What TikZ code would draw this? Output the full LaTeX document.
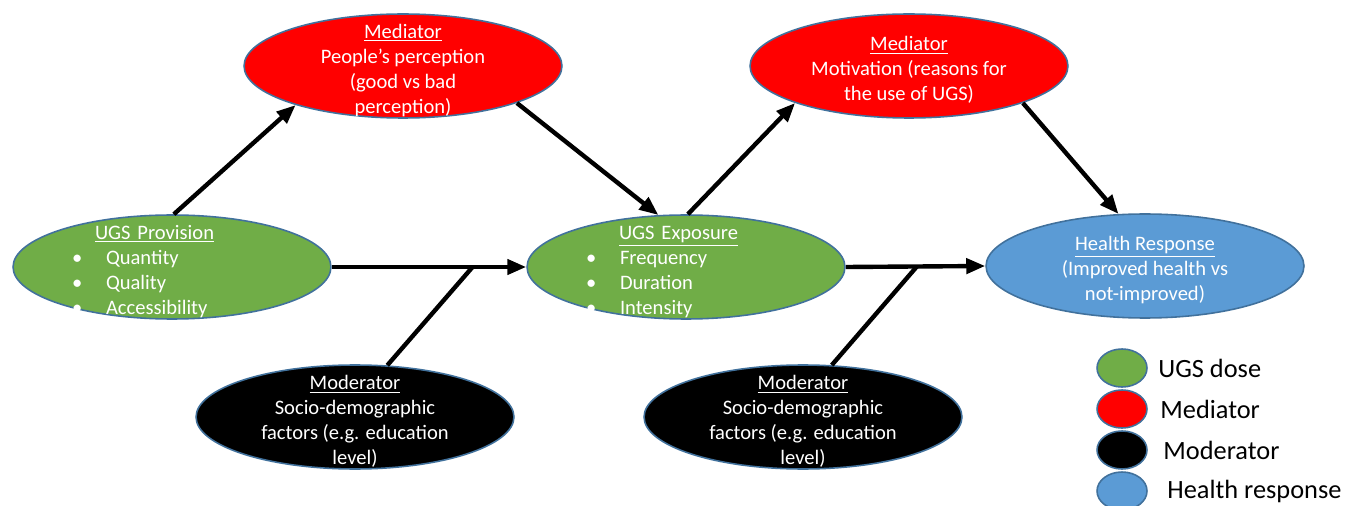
\documentclass[tikz,border=0pt]{standalone}
\usepackage{fontspec}
\setmainfont{Carlito}
\usepackage{tikz}
\usetikzlibrary{shapes.geometric,arrows.meta,calc,positioning}
\definecolor{dosegreen}{HTML}{70AD47}
\definecolor{medred}{HTML}{FF0000}
\definecolor{respblue}{HTML}{5B9BD5}
\definecolor{rimblue}{HTML}{41719C}
\newcommand{\padtop}{\rule{0pt}{12.8pt}}

\begin{document}
\begin{tikzpicture}[x=0.02cm, y=-0.02cm]
    \tikzstyle{blob} = [ellipse, draw=rimblue, line width=0.9pt, text=white, inner xsep=0pt, inner ysep=-0.6cm, minimum width=6.36cm, minimum height=2.08cm, align=center, font=\fontsize{11.7}{14.2}\selectfont]
    \tikzstyle{dose} = [blob, fill=dosegreen, align=left, text width=4cm]
    \tikzstyle{mediator} = [blob, fill=medred]
    \tikzstyle{moderator} = [blob, fill=black]
    \tikzstyle{response} = [blob, fill=respblue]
    \tikzstyle{legdot} = [ellipse, draw=rimblue, line width=0.9pt, inner sep=0pt, minimum width=1cm, minimum height=0.76cm]
    \tikzstyle{arr} = [line width=2.5pt, -{Triangle[length=0.38cm, width=0.3cm]}]
    \tikzstyle{link} = [line width=2.5pt]

    \useasboundingbox (0,0) rectangle (1358,506);

    % UGS dose
    \node[dose] (prov) at (172,267) {\padtop\hspace*{0.46cm}\underline{UGS Provision}\\
        \makebox[0.68cm][l]{\textbullet}Quantity\\
        \makebox[0.68cm][l]{\textbullet}Quality\\
        \makebox[0.68cm][l]{\textbullet}Accessibility};
    \node[dose] (expo) at (686,267) {\padtop\hspace*{0.66cm}\underline{UGS Exposure}\\
        \makebox[0.68cm][l]{\textbullet}Frequency\\
        \makebox[0.68cm][l]{\textbullet}Duration\\
        \makebox[0.68cm][l]{\textbullet}Intensity};

    % Mediators
    \node[mediator] (perc) at (403,66) {\padtop\underline{Mediator}\\ People’s perception\\ (good vs bad\\ perception)};
    \node[mediator] (moti) at (909,66) {\padtop\underline{Mediator}\\ Motivation (reasons for\\ the use of UGS)};

    % Response
    \node[response] (heal) at (1145,266) {\padtop\underline{Health Response}\\ (Improved health vs\\ not-improved)};

    % Moderators
    \node[moderator] (mod1) at (355,417) {\padtop\underline{Moderator}\\ Socio-demographic\\ factors (e.g. education\\ level)};
    \node[moderator] (mod2) at (803,417) {\padtop\underline{Moderator}\\ Socio-demographic\\ factors (e.g. education\\ level)};

    % Paths
    \draw[arr] (prov.88) -- (perc.200);
    \draw[arr] (perc.342) -- (expo.118);
    \draw[arr] (expo.88) -- (moti.198);
    \draw[arr] (moti.342) -- (heal.117);
    \draw[arr] (prov.east) -- (expo.west);
    \draw[arr] (expo.east) -- (heal.west);

    % Moderation
    \coordinate (j1) at ($(prov.east)!0.724!(expo.west)$);
    \coordinate (j2) at ($(expo.east)!0.51!(heal.west)$);
    \draw[link] (mod1.58) -- (j1);
    \draw[link] (mod2.61) -- (j2);

    % Legend
    \foreach \yy/\col/\lbl/\dx in {368/dosegreen/UGS dose/0, 409/medred/Mediator/2, 450/black/Moderator/5, 491/respblue/Health response/9} {
        \node[legdot, fill=\col] (dot\yy) at (1122,\yy) {};
        \node[anchor=west, inner sep=0pt, font=\fontsize{15}{18}\selectfont] (lab\yy) at (1158+\dx,\yy) {\lbl};
    }
\end{tikzpicture}
\end{document}
